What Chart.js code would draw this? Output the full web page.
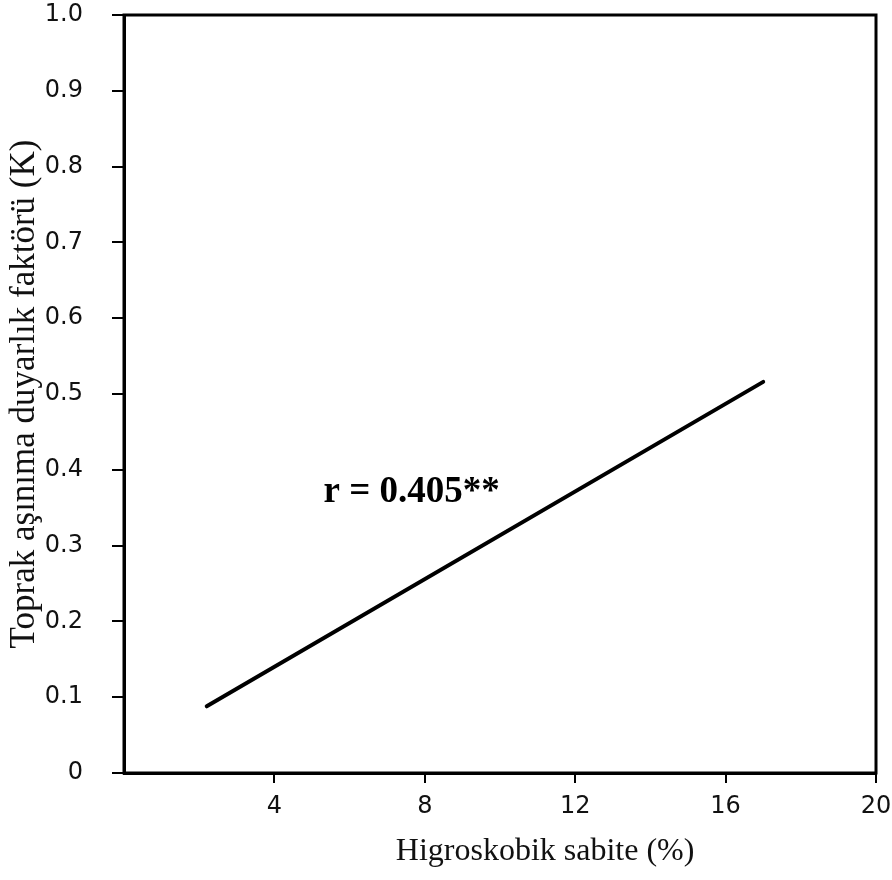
<!DOCTYPE html>
<html>
<head>
<meta charset="utf-8">
<script src="https://cdn.jsdelivr.net/npm/chart.js@4.4.0/dist/chart.umd.min.js"></script>
<style>
  html, body { margin: 0; padding: 0; background: #ffffff; }
  #wrap { width: 892px; height: 880px; position: relative; }
</style>
</head>
<body>
<div id="wrap"><canvas id="c" width="892" height="880"></canvas></div>
<script>
// ---- data ----
const hygroscopic = [2.2, 17.0];          // x: Higroskobik sabite (%)
const kFactor = [0.088, 0.516];           // y: K factor (regression line ends)
const xTickValues = [4, 8, 12, 16, 20];
const yTickValues = [0, 0.1, 0.2, 0.3, 0.4, 0.5, 0.6, 0.7, 0.8, 0.9, 1.0];
const yTickLabels = ['0', '0.1', '0.2', '0.3', '0.4', '0.5', '0.6', '0.7', '0.8', '0.9', '1.0'];
const xTitle = 'Higroskobik sabite (%)';
const yTitle = 'Toprak aşınıma duyarlık faktörü (K)';
const rText = 'r = 0.405**';
const rTextAt = [7.65, 0.37];
const xTitleCenter = 11.2;

const points = hygroscopic.map((x, i) => ({ x: x, y: kFactor[i] }));

const framePlugin = {
  id: 'frame',
  afterDraw(chart) {
    const { ctx, chartArea: a, scales } = chart;
    ctx.save();
    ctx.strokeStyle = '#000';
    ctx.lineWidth = 3;
    ctx.strokeRect(a.left, a.top, a.right - a.left, a.bottom - a.top);
    // annotation
    ctx.fillStyle = '#000';
    ctx.font = 'bold 37px "Liberation Serif"';
    ctx.textAlign = 'center';
    ctx.textBaseline = 'middle';
    ctx.fillText(rText, scales.x.getPixelForValue(rTextAt[0]), scales.y.getPixelForValue(rTextAt[1]));
    // x-axis title
    ctx.font = '32px "Liberation Serif"';
    ctx.fillStyle = '#111';
    ctx.fillText(xTitle, scales.x.getPixelForValue(xTitleCenter), 852);
    ctx.restore();
  }
};

new Chart(document.getElementById('c'), {
  type: 'scatter',
  data: {
    datasets: [{
      data: points,
      showLine: true,
      borderColor: '#000',
      borderWidth: 4,
      borderCapStyle: 'round',
      pointRadius: 0,
      fill: false
    }]
  },
  options: {
    responsive: false,
    animation: false,
    layout: { padding: { top: 15, right: 0, left: 0, bottom: 0 } },
    plugins: { legend: { display: false }, tooltip: { enabled: false } },
    scales: {
      x: {
        type: 'linear',
        min: 0, max: 20,
        afterBuildTicks: s => { s.ticks = xTickValues.map(v => ({ value: v })); },
        afterFit: s => { s.height = 107; s.paddingLeft = 0; s.paddingRight = 16; },
        border: { display: true, color: '#000', width: 3 },
        grid: { drawOnChartArea: false, drawTicks: true, tickLength: 10, color: '#000', lineWidth: 2 },
        ticks: {
          color: '#111',
          font: { family: '"DejaVu Sans"', size: 24 },
          padding: 9,
          maxRotation: 0,
          callback: v => String(v)
        },
        title: { display: false }
      },
      y: {
        type: 'linear',
        min: 0, max: 1,
        afterBuildTicks: s => { s.ticks = yTickValues.map(v => ({ value: v })); },
        afterFit: s => { s.width = 124; s.paddingTop = 0; s.paddingBottom = 0; },
        border: { display: true, color: '#000', width: 3 },
        grid: { drawOnChartArea: false, drawTicks: true, tickLength: 12, color: '#000', lineWidth: 2 },
        ticks: {
          color: '#111',
          font: { family: '"DejaVu Sans"', size: 24 },
          padding: 29,
          callback: (v, i) => yTickLabels[i]
        },
        title: {
          display: true,
          text: yTitle,
          color: '#111',
          font: { family: '"Liberation Serif"', size: 35 },
          padding: { top: 4, bottom: 0 }
        }
      }
    }
  },
  plugins: [framePlugin]
});
</script>
</body>
</html>
